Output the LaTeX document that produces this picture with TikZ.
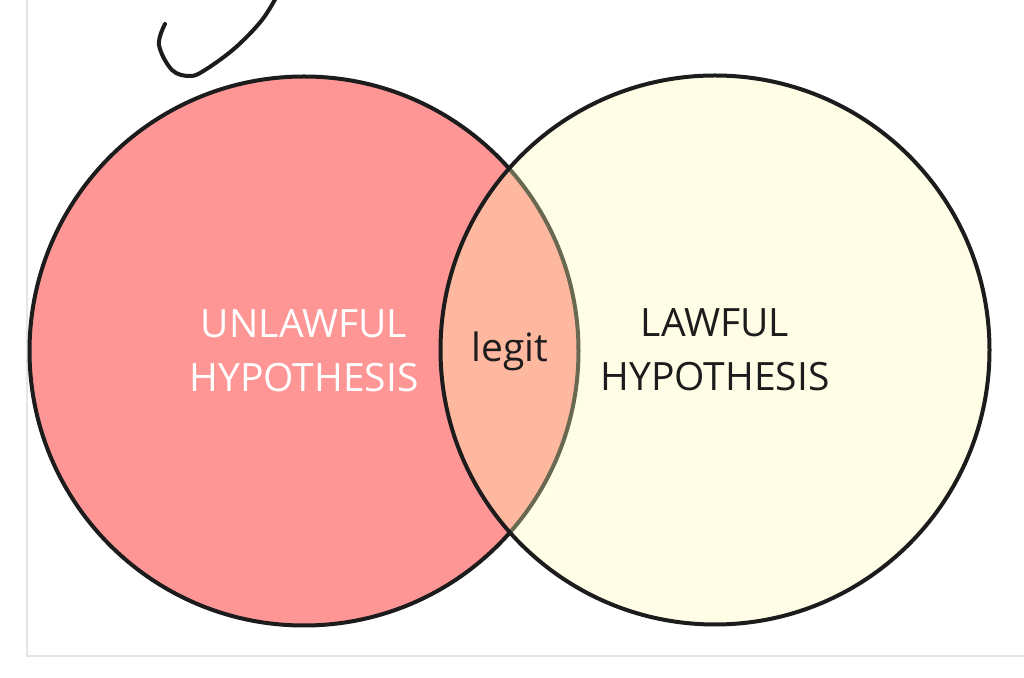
\documentclass[tikz,border=0pt]{standalone}
\usepackage{fontspec}
\setmainfont{Open Sans}
\definecolor{unlawfulred}{RGB}{255,150,150}
\definecolor{lawfulyellow}{RGB}{255,252,182}
\definecolor{inkblack}{RGB}{28,28,28}
\definecolor{framegray}{RGB}{229,229,229}
\tikzset{
  vennset/.style={circle, draw=inkblack, line width=2pt, minimum size=274.5pt, inner sep=0pt, align=center},
  venntext/.style={font=\fontsize{19.5}{27}\selectfont}
}
\begin{document}
\begin{tikzpicture}[x=0.5pt,y=-0.5pt]
        \useasboundingbox (0,0) rectangle (1024,678);
        \fill[white] (0,0) rectangle (1024,678);

        % Page frame (light gray)
        \draw[framegray, line width=1pt] (27,0) -- (27,656) -- (1024,656);

        % Pen stroke at top left
        \draw[inkblack, line width=2pt, line cap=round] plot[smooth, tension=0.6] coordinates {(165,24) (159,45) (172,70) (190,76) (205,70) (235,48) (262,20) (278,-6)};

        % Circles (right one drawn on top, see-through)
        \node[vennset, fill=unlawfulred, venntext, text=white] (unlawful) at (304,351) {UNLAWFUL\\HYPOTHESIS};
        \node[vennset, fill=lawfulyellow, fill opacity=0.34, text opacity=1, venntext, text=inkblack] (lawful) at (715,350) {LAWFUL\\HYPOTHESIS};

        % Overlap label
        \node[venntext, text=inkblack] (legit) at (510,351) {legit};
\end{tikzpicture}
\end{document}
